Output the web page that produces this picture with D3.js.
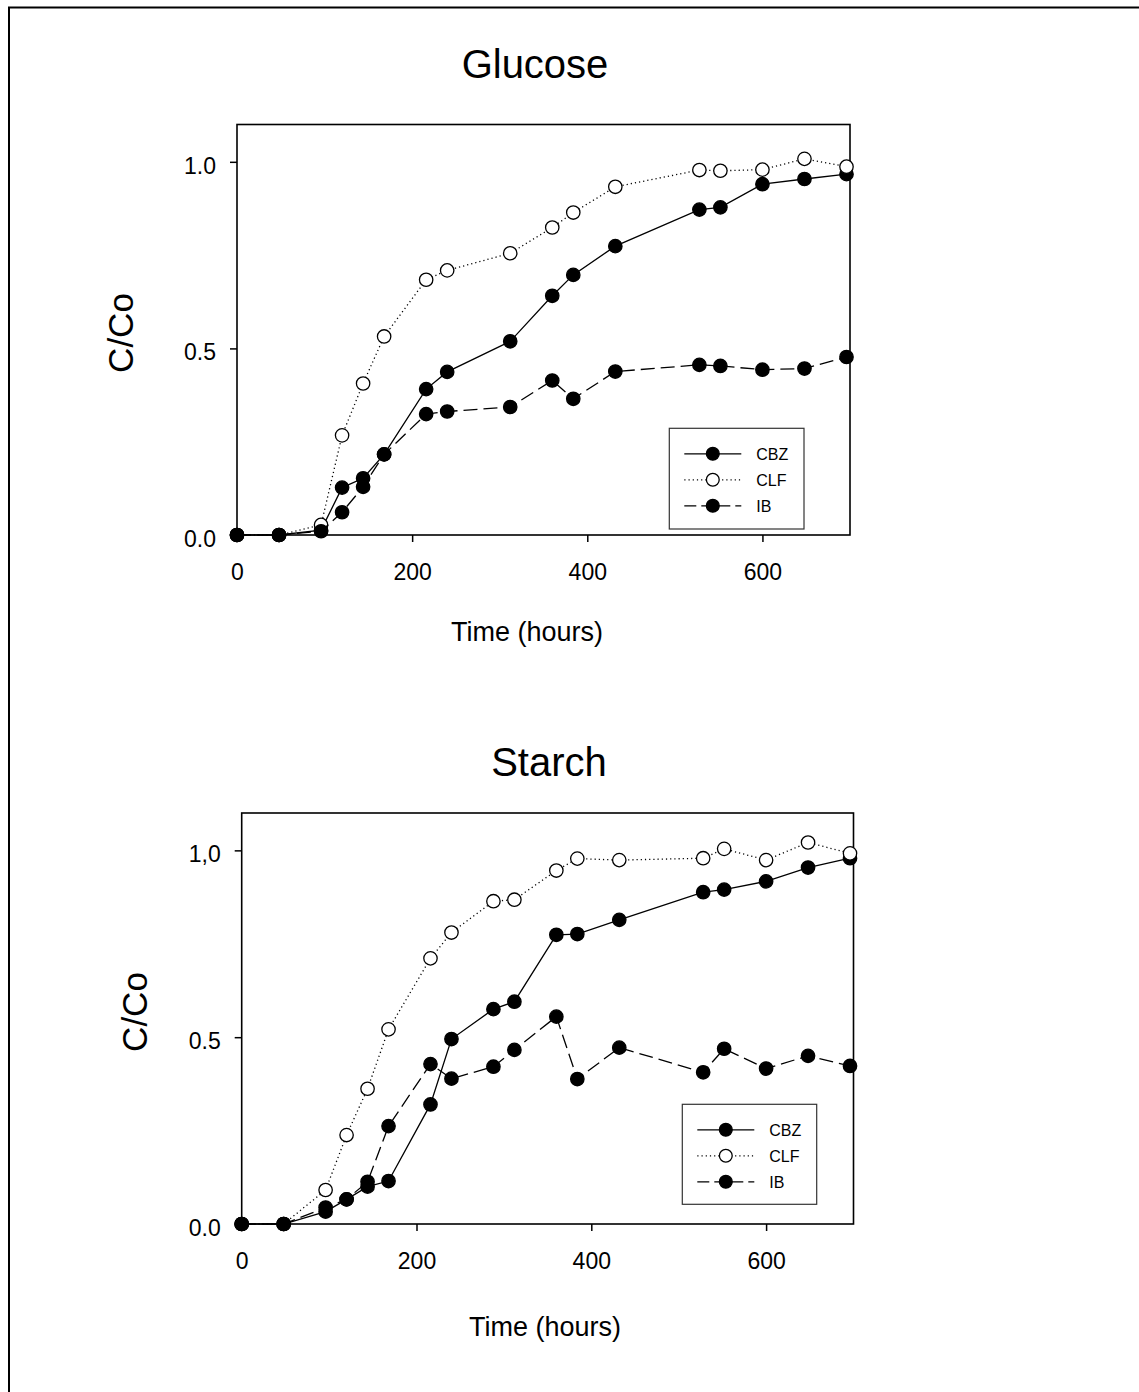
<!DOCTYPE html>
<html>
<head>
<meta charset="utf-8">
<script src="https://cdn.jsdelivr.net/npm/d3@7"></script>
<style>
  html, body { margin: 0; padding: 0; background: #fff; }
  svg { display: block; }
  text { font-family: "Liberation Sans", Arial, Helvetica, sans-serif; fill: #000; }
</style>
</head>
<body>
<svg id="chart" width="1139" height="1392"></svg>
<script>
// ---- Data ----
const seriesNames = ["CBZ", "CLF", "IB"];
const xTicks = [0, 200, 400, 600];
const yTicks = [0, 0.5, 1.0];
const glucoseYTickLabels = ["0.0", "0.5", "1.0"];
const starchYTickLabels = ["0.0", "0.5", "1,0"];

const glucoseTimes = [0, 48, 96, 120, 144, 168, 216, 240, 312, 360, 384, 432, 528, 552, 600, 648, 696];
const glucoseCBZ = [0, 0, 0.013, 0.127, 0.152, 0.216, 0.391, 0.437, 0.519, 0.641, 0.697, 0.774, 0.872, 0.878, 0.940, 0.954, 0.967];
const glucoseCLF = [0, 0, 0.027, 0.267, 0.406, 0.532, 0.684, 0.709, 0.755, 0.824, 0.864, 0.933, 0.978, 0.976, 0.979, 1.008, 0.987];
const glucoseIB  = [0, 0, 0.010, 0.061, 0.129, 0.216, 0.324, 0.331, 0.343, 0.414, 0.365, 0.438, 0.456, 0.453, 0.443, 0.446, 0.477];

const starchTimes = [0, 48, 96, 120, 144, 168, 216, 240, 288, 312, 360, 384, 432, 528, 552, 600, 648, 696];
const starchCBZ = [0, 0, 0.033, 0.066, 0.100, 0.115, 0.320, 0.495, 0.575, 0.595, 0.774, 0.776, 0.814, 0.888, 0.895, 0.917, 0.954, 0.979];
const starchCLF = [0, 0, 0.091, 0.238, 0.362, 0.521, 0.711, 0.780, 0.864, 0.868, 0.946, 0.978, 0.974, 0.979, 1.004, 0.974, 1.021, 0.992];
const starchIB  = [0, 0, 0.044, 0.066, 0.113, 0.262, 0.428, 0.389, 0.421, 0.466, 0.555, 0.388, 0.472, 0.406, 0.469, 0.416, 0.450, 0.423];

// ---- Styles ----
const styles = {
  CBZ: { dash: null, fill: "#000" },
  CLF: { dash: "1.2,3", fill: "#fff" },
  IB:  { dash: "14,6", fill: "#000" }
};

const svg = d3.select("#chart");

// outer frame
svg.append("rect")
  .attr("x", 9).attr("y", 7.5)
  .attr("width", 1200).attr("height", 1500)
  .attr("fill", "none").attr("stroke", "#000").attr("stroke-width", 2);

function drawPanel(cfg) {
  const x = d3.scaleLinear().domain([0, 700]).range([cfg.left, cfg.right]);
  const y = d3.scaleLinear().domain([0, 1.1]).range([cfg.bottom, cfg.top]);
  const g = svg.append("g");

  // title
  g.append("text").attr("x", cfg.titleX).attr("y", cfg.titleY)
    .attr("text-anchor", "middle").style("font-size", "40px").text(cfg.title);

  // frame
  g.append("rect")
    .attr("x", cfg.left).attr("y", cfg.top)
    .attr("width", cfg.right - cfg.left).attr("height", cfg.bottom - cfg.top)
    .attr("fill", "none").attr("stroke", "#000").attr("stroke-width", 1.6);

  // x axis
  const xAxis = d3.axisBottom(x).tickValues(xTicks).tickSize(7).tickPadding(22).tickFormat(d3.format("d"));
  const xa = g.append("g").attr("transform", `translate(0,${cfg.bottom})`).call(xAxis);
  xa.select(".domain").remove();
  xa.selectAll(".tick line").attr("stroke", "#000").attr("stroke-width", 1.5);
  xa.selectAll(".tick text").style("font-size", "23px").attr("fill", "#000")
    .attr("font-family", "Liberation Sans, Arial, sans-serif");

  // y axis
  const yAxis = d3.axisLeft(y).tickValues(yTicks).tickSize(7).tickPadding(14)
    .tickFormat((d, i) => cfg.yTickLabels[i]);
  const ya = g.append("g").attr("transform", `translate(${cfg.left},0)`).call(yAxis);
  ya.select(".domain").remove();
  ya.selectAll(".tick line").attr("stroke", "#000").attr("stroke-width", 1.5);
  ya.selectAll(".tick text").style("font-size", "23px").attr("fill", "#000")
    .attr("dy", "0.5em")
    .attr("font-family", "Liberation Sans, Arial, sans-serif");

  // axis labels
  g.append("text").attr("x", cfg.xLabelX).attr("y", cfg.xLabelY)
    .attr("text-anchor", "middle").style("font-size", "27px").text("Time (hours)");
  g.append("text")
    .attr("transform", `translate(${cfg.yLabelX},${cfg.yLabelY}) rotate(-90)`)
    .attr("text-anchor", "middle").style("font-size", "35px").text("C/Co");

  // series
  const line = d3.line().x(d => x(d[0])).y(d => y(d[1]));
  cfg.series.forEach(s => {
    const pts = cfg.times.map((t, i) => [t, s.values[i]]);
    const st = styles[s.name];
    g.append("path").datum(pts)
      .attr("d", line).attr("fill", "none").attr("stroke", "#000")
      .attr("stroke-width", 1.3)
      .attr("stroke-dasharray", st.dash);
    g.selectAll(null).data(pts).enter().append("circle")
      .attr("cx", d => x(d[0])).attr("cy", d => y(d[1])).attr("r", 6.7)
      .attr("fill", st.fill).attr("stroke", "#000").attr("stroke-width", 1.3);
  });

  // legend
  const L = cfg.legend;
  const lg = g.append("g");
  lg.append("rect").attr("x", L.x).attr("y", L.y).attr("width", L.w).attr("height", L.h)
    .attr("fill", "#fff").attr("stroke", "#333").attr("stroke-width", 1.2);
  seriesNames.forEach((name, i) => {
    const st = styles[name];
    const yy = L.y + 25.5 + i * 26;
    lg.append("line").attr("x1", L.x + 15).attr("x2", L.x + 72).attr("y1", yy).attr("y2", yy)
      .attr("stroke", "#000").attr("stroke-width", 1.3).attr("stroke-dasharray", name === "IB" ? "12,5" : st.dash);
    lg.append("circle").attr("cx", L.x + 43.5).attr("cy", yy).attr("r", 6.4)
      .attr("fill", st.fill).attr("stroke", "#000").attr("stroke-width", 1.3);
    lg.append("text").attr("x", L.x + 87).attr("y", yy + 5.8)
      .style("font-size", "16px").text(name);
  });
}

drawPanel({
  title: "Glucose", titleX: 535, titleY: 78,
  left: 237, right: 850, top: 124.5, bottom: 535,
  yTickLabels: glucoseYTickLabels,
  xLabelX: 527, xLabelY: 641,
  yLabelX: 133, yLabelY: 333,
  times: glucoseTimes,
  series: [
    { name: "CBZ", values: glucoseCBZ },
    { name: "CLF", values: glucoseCLF },
    { name: "IB", values: glucoseIB }
  ],
  legend: { x: 669.3, y: 428.3, w: 134.7, h: 100.7 }
});

drawPanel({
  title: "Starch", titleX: 549, titleY: 776,
  left: 241.7, right: 853.5, top: 813, bottom: 1224,
  yTickLabels: starchYTickLabels,
  xLabelX: 545, xLabelY: 1336,
  yLabelX: 147, yLabelY: 1012,
  times: starchTimes,
  series: [
    { name: "CBZ", values: starchCBZ },
    { name: "CLF", values: starchCLF },
    { name: "IB", values: starchIB }
  ],
  legend: { x: 682.3, y: 1104.3, w: 134.4, h: 100 }
});
</script>
</body>
</html>
